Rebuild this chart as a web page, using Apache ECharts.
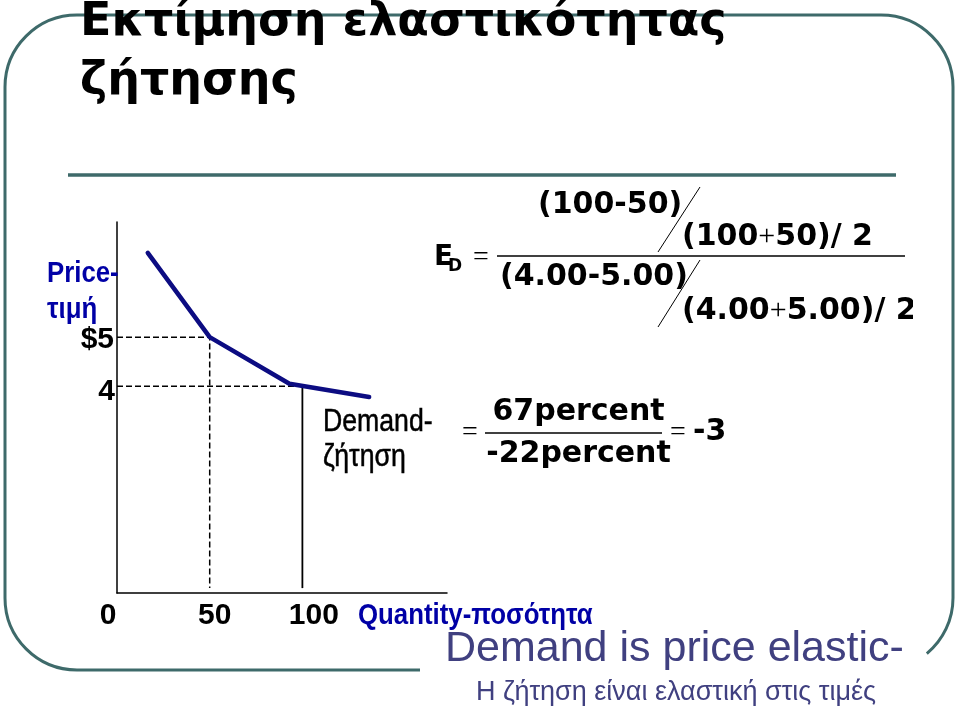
<!DOCTYPE html>
<html>
<head>
<meta charset="utf-8">
<script src="https://cdn.jsdelivr.net/npm/echarts@6/dist/echarts.min.js"></script>
<style>
html,body{margin:0;padding:0;background:#ffffff;}
#chart{width:960px;height:708px;}
</style>
</head>
<body>
<div id="chart"></div>
<script>
// ---- data ----
const qtyTicks = [0, 50, 100];
const qtyTickLabels = ['0', '50', '100'];
const priceTicks = [4, 5];
const priceTickLabels = ['4', '$5'];
const demandQty = [16.6, 50, 93, 136];
const demandPrice = [6.72, 5, 4.05, 3.78];
const refQty = [50, 100];
const refPrice = [5, 4];
const axisFloor = -0.12;

// ---- styles ----
const ARIAL = '"Liberation Sans", Arial, sans-serif';
const BOLDF = '"DejaVu Sans", Verdana, sans-serif';
const FRAME = '#3e6a6a';
const BLUE = '#0000a6';
const NARROW_SCALE = 0.86;

const chart = echarts.init(document.getElementById('chart'), null, {renderer: 'canvas'});

function txt(x, y, text, font, fill, align, extra, scaleX) {
  const st = Object.assign({
    text: text, font: font, fill: fill || '#000',
    align: align || 'left', textAlign: align || 'left',
    verticalAlign: 'middle', textVerticalAlign: 'middle'
  }, extra || {});
  const el = {type: 'text', x: x, y: y, z: 10, silent: true, style: st};
  if (scaleX) { el.scaleX = scaleX; }
  return el;
}
function seg(x1, y1, x2, y2, w, color, z) {
  return {type: 'line', z: z || 5, silent: true,
    shape: {x1: x1, y1: y1, x2: x2, y2: y2},
    style: {stroke: color || '#000', lineWidth: w}};
}
function arc(cx, cy, r, a0, a1, w, color) {
  return {type: 'arc', z: 1, silent: true,
    shape: {cx: cx, cy: cy, r: r, startAngle: a0, endAngle: a1, clockwise: true},
    style: {stroke: color, lineWidth: w, fill: null}};
}

function lab(pad) {
  return {fontFamily: ARIAL, fontWeight: 'bold', fontSize: 30, color: '#000', padding: pad};
}
const xLabelRich = {l0: lab([0, 18, 0, 0]), l1: lab([0, 0, 0, 10]), l2: lab([0, 0, 0, 23])};
const yLabelRich = {l0: lab([12, 0, 0, 0]), l1: lab([6, 1, 0, 0])};

const richFormula = {
  b: {font: 'bold 30px ' + BOLDF, fill: '#000'},
  p: {font: '30px "Liberation Serif", serif', fill: '#000'}
};

const PI = Math.PI;
const graphics = [
  // frame
  seg(77, 670, 420, 670, 3, FRAME, 1),
  arc(77, 598, 72, PI / 2, PI, 3, FRAME),
  seg(5, 598, 5, 87, 3, FRAME, 1),
  arc(77, 87, 72, PI, PI * 1.5, 3, FRAME),
  seg(77, 15, 881, 15, 3, FRAME, 1),
  arc(881, 87, 72, PI * 1.5, PI * 2, 3, FRAME),
  seg(953, 87, 953, 598, 3, FRAME, 1),
  arc(881, 598, 72, 0, 0.881, 3, FRAME),
  seg(68, 175, 896, 175, 3.5, FRAME, 1),
  // title
  txt(80, 23, 'Εκτίμηση ελαστικότητας', 'bold 46px ' + BOLDF),
  txt(80, 82, 'ζήτησης', 'bold 46px ' + BOLDF),
  // axis names / labels
  txt(47, 273.5, 'Price-', 'bold 30px ' + ARIAL, BLUE, 'left', null, NARROW_SCALE),
  txt(47, 310, 'τιμή', 'bold 30px ' + ARIAL, BLUE, 'left', null, NARROW_SCALE),
  txt(358, 616, 'Quantity-ποσότητα', 'bold 30px ' + ARIAL, BLUE, 'left', null, NARROW_SCALE),
  txt(323, 422, 'Demand-', '31px ' + ARIAL, '#000', 'left', {stroke: '#000', lineWidth: 0.5}, NARROW_SCALE),
  txt(323, 457, 'ζήτηση', '31px ' + ARIAL, '#000', 'left', {stroke: '#000', lineWidth: 0.5}, NARROW_SCALE),
  // formula 1
  txt(434, 257.5, 'E', 'bold 28px ' + BOLDF),
  txt(448, 267, 'D', 'bold 17px ' + BOLDF),
  txt(473, 258, '=', '28px "Liberation Serif", serif'),
  seg(497, 256, 905, 256, 1.3, '#000'),
  txt(538, 205, '(100-50)', 'bold 30px ' + BOLDF),
  seg(700, 187, 658, 252, 1, '#000'),
  txt(682, 237, '{b|(100}{p|+}{b|50)/ 2}', 'bold 30px ' + BOLDF, '#000', 'left', {rich: richFormula}),
  txt(500, 277, '(4.00-5.00)', 'bold 30px ' + BOLDF),
  seg(700, 260, 658, 327, 1, '#000'),
  txt(682, 311, '{b|(4.00}{p|+}{b|5.00)/ 2}', 'bold 30px ' + BOLDF, '#000', 'left', {rich: richFormula}),
  {type: 'rect', z: 20, silent: true, shape: {x: 913, y: 288, width: 32, height: 50}, style: {fill: '#fff'}},
  // formula 2
  txt(462, 433, '=', '28px "Liberation Serif", serif'),
  txt(578.5, 412.5, '67percent', 'bold 30px ' + BOLDF, '#000', 'center'),
  seg(485, 433, 662, 433, 1.3, '#000'),
  txt(578.5, 454, '-22percent', 'bold 30px ' + BOLDF, '#000', 'center'),
  txt(670, 433, '=', '28px "Liberation Serif", serif'),
  txt(693, 432.5, '-3', 'bold 30px ' + BOLDF),
  // bottom notes
  txt(445, 649, 'Demand is price elastic-', '43px ' + ARIAL, '#404080'),
  txt(476, 693, 'Η ζήτηση είναι ελαστική στις τιμές', '27px ' + ARIAL, '#404080')
];

const option = {
  backgroundColor: '#ffffff',
  animation: false,
  grid: {left: 117, right: 513, top: 222, bottom: 115, containLabel: false, outerBoundsMode: 'none'},
  xAxis: {
    type: 'value', min: 0, max: 178,
    axisLine: {show: true, onZero: false, lineStyle: {color: '#000', width: 1.5}},
    axisTick: {show: false},
    splitLine: {show: false},
    axisLabel: {
      show: true, margin: 8,
      customValues: qtyTicks,
      formatter: function (v) {
        const i = qtyTicks.indexOf(v);
        return i < 0 ? '' : '{l' + i + '|' + qtyTickLabels[i] + '}';
      },
      rich: xLabelRich
    }
  },
  yAxis: {
    type: 'value', min: -0.22, max: 7.35,
    axisLine: {show: true, onZero: false, lineStyle: {color: '#000', width: 1.5}},
    axisTick: {show: false},
    splitLine: {show: false},
    axisLabel: {
      show: true, margin: 2,
      customValues: priceTicks,
      formatter: function (v) {
        const i = priceTicks.indexOf(v);
        return i < 0 ? '' : '{l' + i + '|' + priceTickLabels[i] + '}';
      },
      rich: yLabelRich
    }
  },
  series: [
    {
      name: 'ref5', type: 'line', symbol: 'none', silent: true, z: 2,
      data: [[0, refPrice[0]], [refQty[0], refPrice[0]], [refQty[0], axisFloor]],
      lineStyle: {color: '#000', width: 1.5, type: [6, 3]}
    },
    {
      name: 'ref4', type: 'line', symbol: 'none', silent: true, z: 2,
      data: [[0, refPrice[1]], [refQty[1], refPrice[1]]],
      lineStyle: {color: '#000', width: 1.5, type: [6, 3]}
    },
    {
      name: 'ref100', type: 'line', symbol: 'none', silent: true, z: 2,
      data: [[refQty[1], refPrice[1] + 0.03], [refQty[1], axisFloor]],
      lineStyle: {color: '#000', width: 1.8, type: 'solid'}
    },
    {
      name: 'Demand', type: 'line', symbol: 'none', silent: true, z: 3,
      data: demandQty.map(function (q, i) { return [q, demandPrice[i]]; }),
      lineStyle: {color: '#0c0c82', width: 4.5, cap: 'round', join: 'round'}
    }
  ],
  graphic: graphics
};
chart.setOption(option);
</script>
</body>
</html>
